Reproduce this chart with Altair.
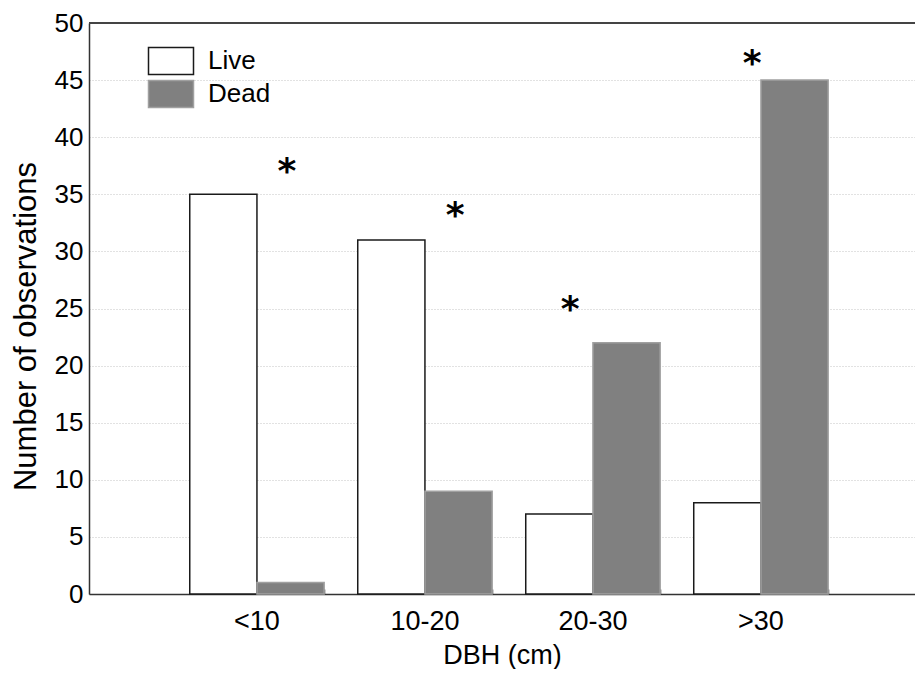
import altair as alt
import pandas as pd

# ---- data ----
categories = ["<10", "10-20", "20-30", ">30"]
live = [35, 31, 7, 8]
dead = [1, 9, 22, 45]
# asterisk annotations: height (in count units) and horizontal shift relative to group centre
star_y = [37.3, 33.45, 25.26, 46.8]
star_shift = [0.223, 0.225, -0.17, -0.065]

FONT = "Liberation Sans"
W, H = 826, 571
PAD = {"left": 81, "top": 15, "right": 0, "bottom": 75}

rows = []
for c, l, d in zip(categories, live, dead):
    rows.append({"DBH": c, "Status": "Live", "Count": l})
    rows.append({"DBH": c, "Status": "Dead", "Count": d})
bars_df = pd.DataFrame(rows)
stars_df = pd.DataFrame({"DBH": categories, "y": star_y, "shift": star_shift,
                         "label": ["*"] * len(categories)})

xscale = alt.Scale(domain=categories, paddingInner=0.2, paddingOuter=0.5584, align=0.537)
yscale = alt.Scale(domain=[0, 50], nice=False, zero=True)

y_axis = alt.Axis(
    title="Number of observations", values=list(range(0, 51, 5)),
    ticks=False, tickSize=0, labelPadding=6,
    labelFont=FONT, labelFontSize=26, labelColor="#000",
    titleFont=FONT, titleFontSize=31, titleFontWeight="normal", titleColor="#000",
    titlePadding=12, titleY=303,
    domainColor="#333", domainWidth=1.5,
    grid=True, gridColor="#c4c4c4", gridDash=[1, 2], gridWidth=1,
)

x_axis = alt.Axis(
    title="DBH (cm)", labelAngle=0, ticks=False, tickSize=0, labelPadding=14,
    labelFont=FONT, labelFontSize=27, labelColor="#000",
    titleFont=FONT, titleFontSize=27, titleFontWeight="normal", titleColor="#000",
    titlePadding=8, domainColor="#333", domainWidth=1.5, grid=False,
)

tick_axis = alt.Axis(
    orient="top", offset=-H, title=None, labels=False, domain=False, grid=False,
    ticks=True, tickSize=5, tickWidth=1.5, tickColor="#333", tickBand="extent",
)

legend = alt.Legend(
    title=None, orient="none", legendX=66, legendY=22, direction="vertical",
    symbolType="M-1.5,-0.9H1.5V0.9H-1.5Z", symbolSize=900, symbolStrokeWidth=1.5,
    labelFont=FONT, labelFontSize=26, labelColor="#000", labelOffset=21,
    rowPadding=-1, padding=0, labelLimit=0,
)

status_order = ["Live", "Dead"]

bars = alt.Chart(bars_df).mark_bar(strokeWidth=1.5, opacity=1).encode(
    x=alt.X("DBH:N", sort=categories, scale=xscale, axis=x_axis),
    xOffset=alt.XOffset("Status:N", sort=status_order,
                        scale=alt.Scale(domain=status_order, paddingInner=0, paddingOuter=0)),
    y=alt.Y("Count:Q", scale=yscale, axis=y_axis),
    fill=alt.Fill("Status:N", sort=status_order,
                  scale=alt.Scale(domain=status_order, range=["#ffffff", "#808080"]),
                  legend=legend),
    stroke=alt.Stroke("Status:N", sort=status_order,
                      scale=alt.Scale(domain=status_order, range=["#1a1a1a", "#a0a0a0"]),
                      legend=legend),
)

stars = alt.Chart(stars_df).mark_text(
    font="DejaVu Sans", fontSize=36, fontWeight="bold", color="#000",
    baseline="middle", align="center", dy=4,
).encode(
    x=alt.X("DBH:N", sort=categories, scale=xscale, axis=tick_axis),
    xOffset=alt.XOffset("shift:Q", scale=alt.Scale(domain=[-0.5, 0.5], nice=False, zero=False)),
    y=alt.Y("y:Q", scale=yscale, axis=y_axis),
    text="label:N",
)

top_rule = alt.Chart(bars_df).mark_rule(color="#444", strokeWidth=2).encode(
    y=alt.Y(datum=50, scale=yscale, axis=y_axis),
)

chart = (
    alt.layer(bars, stars, top_rule)
    .resolve_scale(xOffset="independent")
    .resolve_axis(x="independent")
    .properties(width=W, height=H, padding=PAD,
                autosize=alt.AutoSizeParams(type="none"))
    .configure_view(stroke=None)
    .configure(font=FONT)
)

chart.save("out.html", embed_options={"renderer": "svg", "actions": False})
